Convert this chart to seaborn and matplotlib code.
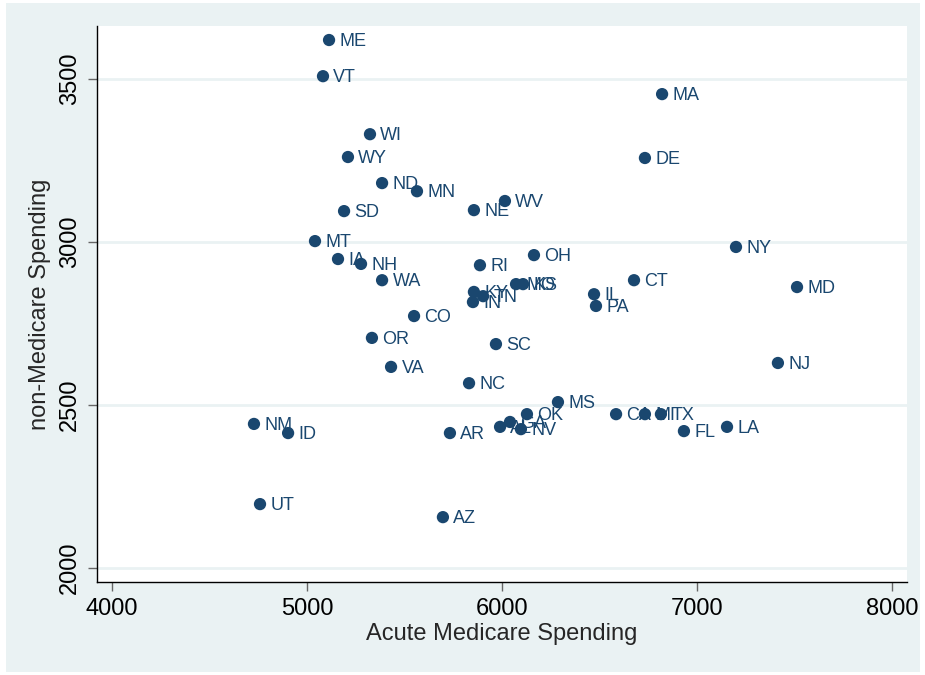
import matplotlib
matplotlib.use("Agg")
import matplotlib.pyplot as plt
import matplotlib.patches as mpatches
import seaborn as sns
import pandas as pd

# State-level spending per enrollee
states = ["ME", "VT", "MA", "WI", "WY", "DE", "ND", "MN", "WV", "NE",
          "SD", "MT", "NY", "OH", "IA", "NH", "RI", "CT", "WA", "MD",
          "KY", "TN", "IN", "MO", "KS", "IL", "PA", "CO", "OR", "SC",
          "NJ", "VA", "NC", "MS", "OK", "CA", "MI", "TX", "AL", "GA",
          "NV", "NM", "ID", "AR", "FL", "LA", "UT", "AZ"]
acute_medicare = [5113, 5082, 6821, 5323, 5210, 6733, 5385, 5564, 6015, 5856,
                  5190, 5041, 7200, 6164, 5159, 5277, 5887, 6677, 5385, 7513,
                  5856, 5903, 5851, 6072, 6108, 6472, 6482, 5549, 5333, 5969,
                  7415, 5431, 5831, 6287, 6128, 6585, 6733, 6815, 5990, 6041,
                  6097, 4728, 4903, 5733, 6933, 7154, 4759, 5697]
non_medicare = [3620, 3509, 3454, 3331, 3261, 3258, 3181, 3156, 3126, 3098,
                3095, 3003, 2985, 2960, 2948, 2933, 2929, 2883, 2883, 2862,
                2847, 2834, 2816, 2871, 2871, 2840, 2804, 2773, 2706, 2687,
                2629, 2617, 2567, 2509, 2472, 2472, 2472, 2472, 2433, 2448,
                2426, 2442, 2414, 2414, 2420, 2433, 2196, 2156]

x_ticks = [4000, 5000, 6000, 7000, 8000]
y_ticks = [2000, 2500, 3000, 3500]

df = pd.DataFrame({"state": states, "acute": acute_medicare, "nonmed": non_medicare})

navy = "#1a476f"
panel_bg = "#eaf2f3"
grid_col = "#eaf2f3"

sns.set_style("white")
plt.rcParams["font.family"] = ["Liberation Sans", "DejaVu Sans"]

fig = plt.figure(figsize=(9.25, 6.75), dpi=100, facecolor="white")
fig.patches.append(mpatches.Rectangle((6 / 925, 3 / 675), 914 / 925, 669 / 675,
                                      transform=fig.transFigure, facecolor=panel_bg,
                                      edgecolor="none", zorder=-10))
ax = fig.add_axes([97 / 925, 93 / 675, 810 / 925, 556 / 675])
ax.set_zorder(1)
ax.set_facecolor("white")

sns.scatterplot(data=df, x="acute", y="nonmed", ax=ax, color=navy, s=78,
                edgecolor="none", zorder=3)

for name, xv, yv in zip(states, acute_medicare, non_medicare):
    ax.annotate(name, (xv, yv), xytext=(7.5, -1), textcoords="offset points",
                va="center", ha="left", fontsize=13, color=navy, zorder=4)

ax.set_xlim(3923, 8077)
ax.set_ylim(1957, 3663)
ax.set_xticks(x_ticks)
ax.set_yticks(y_ticks)
ax.set_xticklabels([str(v) for v in x_ticks], fontsize=17)
ax.set_yticklabels([str(v) for v in y_ticks], fontsize=17, rotation=90, va="center")
ax.yaxis.grid(True, color=grid_col, linewidth=2)
ax.set_axisbelow(True)
ax.tick_params(axis="both", direction="out", length=6.5, width=1, color="#666666",
               pad=5, labelcolor="black", left=True, bottom=True)

for side in ["top", "right"]:
    ax.spines[side].set_visible(False)
for side in ["left", "bottom"]:
    ax.spines[side].set_color("black")
    ax.spines[side].set_linewidth(1)

ax.set_xlabel("Acute Medicare Spending", fontsize=17, labelpad=2)
ax.set_ylabel("non-Medicare Spending", fontsize=17, labelpad=6)

fig.savefig("out.png", dpi=100, facecolor="white")
